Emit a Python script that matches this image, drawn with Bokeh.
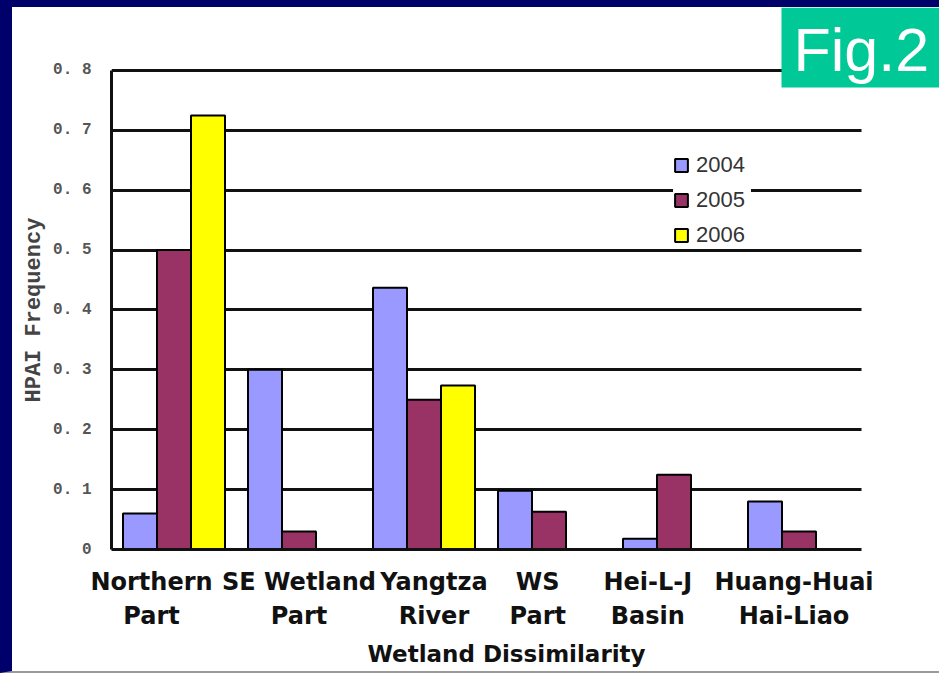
import numpy as np
from bokeh.plotting import figure
from bokeh.models import ColumnDataSource, FixedTicker, BoxAnnotation, Label, Range1d, Title
from bokeh.transform import dodge
from bokeh.embed import file_html
from bokeh.resources import INLINE

# ---- data ----
regions = ["Northern\nPart", "SE Wetland\nPart", "Yangtza\nRiver", "WS\nPart",
           "Hei-L-J\nBasin", "Huang-Huai\nHai-Liao"]
years = ["2004", "2005", "2006"]
v2004 = [0.06, 0.30, 0.437, 0.098, 0.018, 0.08]
v2005 = [0.50, 0.03, 0.25, 0.063, 0.125, 0.03]
v2006 = [0.725, 0.0, 0.274, 0.0, 0.0, 0.0]
y_ticks = [0, 0.1, 0.2, 0.3, 0.4, 0.5, 0.6, 0.7, 0.8]
y_tick_labels = ["0", "0. 1", "0. 2", "0. 3", "0. 4", "0. 5", "0. 6", "0. 7", "0. 8"]
x_title = "Wetland Dissimilarity"
y_title = "HPAI Frequency"
badge = "Fig.2"

# ---- style ----
colors = ["#9999FF", "#993366", "#FFFF00"]
navy = "#00006B"
label_shift = [-0.18, 0.0, 0.08, -0.09, -0.21, -0.04]   # category-label nudges (in category widths)
bw = 0.272

n = len(regions)
xc = np.arange(n) + 0.5
src = ColumnDataSource(dict(xc=xc, y2004=v2004, y2005=v2005, y2006=v2006))

p = figure(width=939, height=673, x_range=Range1d(0, 6.624), y_range=Range1d(0, 0.9052),
           output_backend="svg", toolbar_location=None,
           min_border_left=99, min_border_right=12, min_border_top=0, min_border_bottom=131,
           background_fill_color="white", border_fill_color="white")
p.outline_line_color = None
p.styles = {"border-left": f"12px solid {navy}", "border-top": f"7px solid {navy}",
            "border-bottom": "2px solid #9A9A9A", "overflow": "hidden"}

# grid (drawn across, then the area right of the categories is blanked)
p.xgrid.grid_line_color = None
p.ygrid.ticker = FixedTicker(ticks=y_ticks)
p.ygrid.grid_line_color = "#111111"
p.ygrid.grid_line_width = 3
p.add_layout(BoxAnnotation(left=n, fill_color="white", fill_alpha=1, line_color=None, level="underlay"))

offsets = [-bw, 0.0, bw]
for yr, col, off in zip(years, colors, offsets):
    p.vbar(x=dodge("xc", off), top="y" + yr, width=bw, source=src,
           fill_color=col, line_color="black", line_width=2, legend_label=yr)

# y axis
ya = p.yaxis[0]
ya.bounds = (0, 0.8)
ya.ticker = FixedTicker(ticks=y_ticks)
ya.major_label_overrides = {t: l for t, l in zip(y_ticks, y_tick_labels)}
ya.axis_line_color = "#111111"
ya.axis_line_width = 3
ya.major_tick_out = 0
ya.major_tick_in = 0
ya.minor_tick_line_color = None
ya.major_label_text_font = "Liberation Mono"
ya.major_label_text_font_style = "bold"
ya.major_label_text_font_size = "16px"
ya.major_label_text_color = "#555555"
ya.major_label_standoff = 20
p.add_layout(Title(text=y_title, align="left", offset=147, standoff=8,
                   text_font="Liberation Mono", text_font_style="bold",
                   text_font_size="22px", text_color="#444444"), "left")

# x axis
xticks = [float(c + s) for c, s in zip(xc, label_shift)]
xa = p.xaxis[0]
xa.bounds = (0, n)
xa.ticker = FixedTicker(ticks=xticks)
xa.major_label_overrides = {t: r for t, r in zip(xticks, regions)}
xa.axis_line_color = "#111111"
xa.axis_line_width = 3
xa.major_tick_out = 0
xa.major_tick_in = 0
xa.minor_tick_line_color = None
xa.major_label_text_font = "DejaVu Sans"
xa.major_label_text_font_style = "bold"
xa.major_label_text_font_size = "24px"
xa.major_label_text_color = "#111111"
xa.major_label_text_line_height = 1.22
xa.major_label_standoff = 18
p.add_layout(Title(text=x_title, align="left", offset=256, standoff=13,
                   text_font="DejaVu Sans", text_font_style="bold",
                   text_font_size="23px", text_color="#111111"), "below")

# legend
lg = p.legend[0]
lg.location = (562, 301)
lg.background_fill_color = "white"
lg.background_fill_alpha = 1
lg.border_line_color = None
lg.padding = 4
lg.margin = 0
lg.spacing = 9
lg.glyph_width = 16
lg.glyph_height = 16
lg.label_height = 22
lg.label_width = 55
lg.label_standoff = 7
lg.label_text_font = "Liberation Sans"
lg.label_text_font_size = "22px"
lg.label_text_color = "#333333"

# "Fig.2" badge
p.add_layout(BoxAnnotation(left=5.36, bottom=0.7716, fill_color="#00C896", fill_alpha=1,
                           line_color=None, level="overlay"))
p.add_layout(Label(x=5.456, y=0.8334, text=badge, text_font="Liberation Sans",
                   text_font_size="61px", text_color="white",
                   text_baseline="middle", level="overlay"))

open("out.html", "w").write(file_html(p, INLINE))
